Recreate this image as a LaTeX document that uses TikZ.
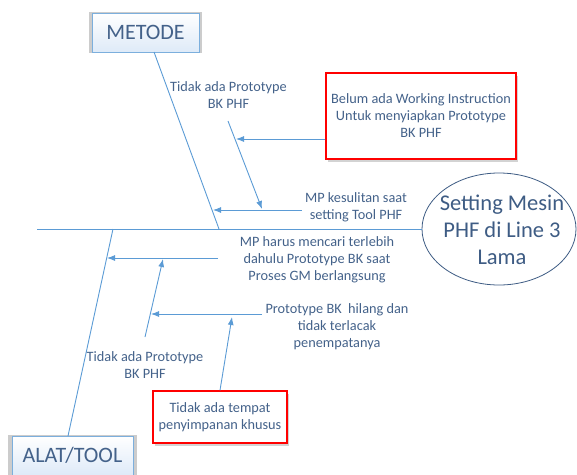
\documentclass[tikz,border=0pt]{standalone}
\usepackage{fontspec}
\setmainfont{Carlito}
\usetikzlibrary{shapes,arrows.meta,positioning,calc,shadows}
\definecolor{boneblue}{RGB}{91,155,213}
\definecolor{txtblue}{RGB}{68,98,138}
\definecolor{headblue}{RGB}{62,92,132}
\definecolor{boxfill}{RGB}{222,234,248}

\tikzset{
  bone/.style={draw=boneblue, line width=0.9pt},
  arr/.style={bone, -{Latex[length=8pt,width=6pt]}},
  lbl/.style={text=txtblue, font=\fontsize{14.3}{17}\selectfont, align=center, inner sep=0pt},
  cause/.style={lbl, draw=red, line width=1.5pt, fill=white,
    drop shadow={opacity=0.35, shadow xshift=2pt, shadow yshift=-3pt}},
  catbox/.style={draw=boneblue!80, line width=0.8pt, top color=white, bottom color=boxfill,
    text=txtblue, font=\fontsize{22}{26}\selectfont,
    general shadow={opacity=0.2, shadow scale=1.06, fill=black}}
}

\begin{document}
\begin{tikzpicture}[x=1pt,y=-1pt]
            \useasboundingbox (0,0) rectangle (577,474);

            % --- Head: Setting Mesin ---
            \node[ellipse, draw=headblue, line width=0.8pt, fill=white,
                  minimum width=154pt, minimum height=112pt, inner sep=0pt] (head) at (499,229) {};
            \node[text=headblue, font=\fontsize{22.5}{27}\selectfont, align=center] (headtxt) at (502,230)
                {Setting Mesin\\PHF di Line 3\\Lama};

            % Spine
            \coordinate (spineL) at (37,229);
            \draw[bone] (spineL) -- (head.west);

            % --- Bone 1: METODE ---
            \node[catbox, minimum width=107pt, minimum height=39pt] (metode) at (145.5,32.5) {METODE};
            \coordinate (metTop) at (154,52);
            \coordinate (metBot) at (219,229);
            \draw[bone] (metTop) -- (metBot);

            \node[lbl] (protoA) at (228.5,95.5) {Tidak ada Prototype\\BK PHF};
            \coordinate (subA1) at (228,121);
            \coordinate (subA2) at (262,209);
            \draw[arr] (subA1) -- (subA2);

            \node[cause, minimum width=190pt, minimum height=86pt] (wi) at (421,116)
                {Belum ada Working Instruction\\Untuk menyiapkan Prototype\\BK PHF};
            \coordinate (tipWI) at (236,139);
            \draw[arr] (wi.west |- tipWI) -- (tipWI);

            \node[lbl] (sulit) at (356,207) {MP kesulitan saat\\setting Tool PHF};
            \coordinate (tipSulit) at (213,210);
            \draw[arr] ([xshift=-3pt]sulit.west |- tipSulit) -- (tipSulit);

            % --- Bone 2: ALAT/TOOL ---
            \node[catbox, minimum width=121pt, minimum height=39pt] (alat) at (72.5,455.5) {ALAT/TOOL};
            \coordinate (alatTop) at (113,229);
            \coordinate (alatBot) at (68,436);
            \draw[bone] (alatBot) -- (alatTop);

            \node[lbl] (cari) at (317,260)
                {MP harus mencari terlebih\\dahulu Prototype BK saat\\Proses GM berlangsung};
            \coordinate (cariStart) at (218,258);
            \coordinate (tipCari) at (107,258);
            \draw[arr] (cariStart) -- (tipCari);

            \node[lbl] (protoB) at (145,365) {Tidak ada Prototype\\BK PHF};
            \coordinate (subB1) at (145,337);
            \coordinate (subB2) at (163,259);
            \draw[arr] (subB1) -- (subB2);

            \node[lbl] (hilang) at (337,326.5)
                {Prototype BK\ \ hilang dan\\tidak terlacak\\penempatanya};
            \coordinate (hilangStart) at (262,314);
            \coordinate (tipHilang) at (151,314);
            \draw[arr] (hilangStart) -- (tipHilang);

            \node[cause, minimum width=134pt, minimum height=52pt] (tempat) at (220,417)
                {Tidak ada tempat\\penyimpanan khusus};
            \coordinate (tipTempat) at (232,317);
            \draw[arr] (tempat.north) -- (tipTempat);
\end{tikzpicture}
\end{document}
